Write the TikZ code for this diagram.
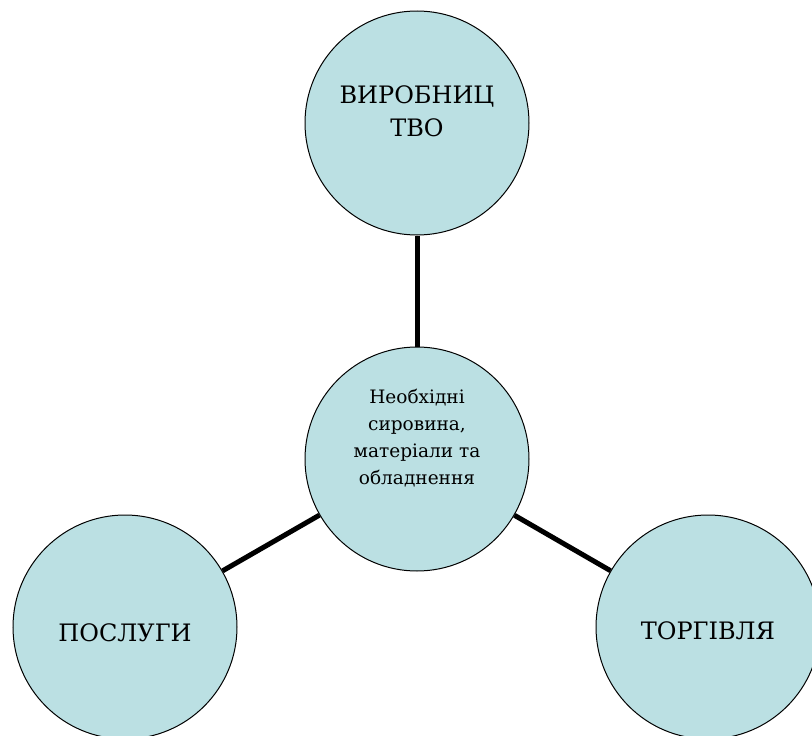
\documentclass[tikz,border=0pt]{standalone}
\usepackage{fontspec}
\setmainfont{DejaVu Serif}
\usepackage{tikz}
\usepackage{xcolor}
\definecolor{bubblefill}{HTML}{BBE0E3}
\newcommand{\liftedtext}[2]{\raisebox{#1}[\height][\depth]{\begin{tabular}{@{}c@{}}#2\end{tabular}}}
\tikzset{
    round-bubble/.style = {draw=black, fill=bubblefill, line width=1pt, circle, minimum size=224pt, inner sep=0pt, font=\fontsize{24}{33}\selectfont},
    small-text/.style = {font=\fontsize{18.5}{27}\selectfont},
    thick-link/.style = {draw=black, line width=5pt},
}

\begin{document}
\begin{tikzpicture}[x=1pt, y=-1pt]
\useasboundingbox (0,0) rectangle (812,736);
\node [round-bubble] (production) at (417,123) {\liftedtext{10pt}{ВИРОБНИЦ\\ТВО}};
\node [round-bubble, small-text] (resources) at (417,459) {\liftedtext{20pt}{Необхідні\\сировина,\\матеріали та\\обладнення}};
\node [round-bubble] (services) at (125,627) {\liftedtext{-8pt}{ПОСЛУГИ}};
\node [round-bubble] (trade) at (708,627) {\liftedtext{-6pt}{ТОРГІВЛЯ}};
\draw [thick-link] (production) -- (resources);
\draw [thick-link] (services) -- (resources);
\draw [thick-link] (trade) -- (resources);
\end{tikzpicture}
\end{document}
